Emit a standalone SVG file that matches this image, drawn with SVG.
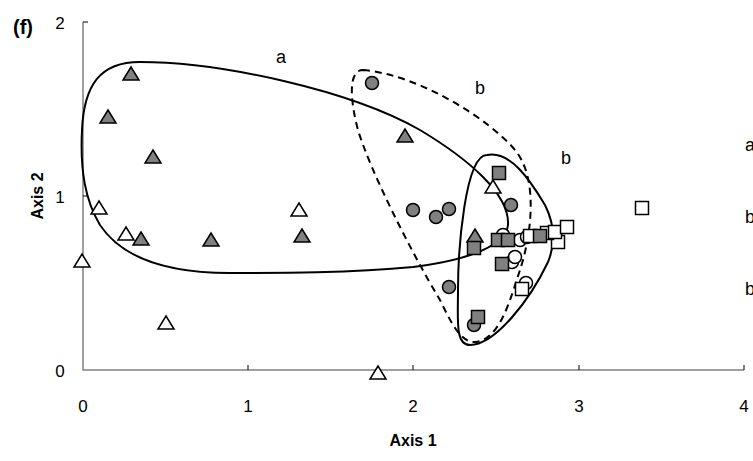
<svg xmlns="http://www.w3.org/2000/svg" width="753" height="461" viewBox="0 0 753 461">
<style>
text{font-family:"Liberation Sans",Arial,sans-serif;font-size:16px;fill:#000}
.b{font-weight:bold}
.lb{font-size:18px}
.ax{stroke:#808080;stroke-width:1.5;fill:none}
.tk{stroke:#000;stroke-width:1;fill:none}
.hull{stroke:#000;stroke-width:2;fill:none}
.dash{stroke-dasharray:7,5}
.f{fill:#808080;stroke:#000;stroke-width:1.5}
.o{fill:#fff;stroke:#000;stroke-width:1.5}
</style>
<defs>
<path id="tri" d="M0,-7 L8,6 L-8,6 Z"/>
<circle id="cir" r="6.5"/>
<rect id="sq" x="-6.5" y="-6.5" width="13" height="13"/>
</defs>
<g id="axes">
<path class="ax" d="M83,22 V370 H744"/>
<path class="tk" d="M83,22 H88 M83,196 H88 M248,370 V365 M413,370 V365 M579,370 V365 M744,370 V365"/>
<text x="60" y="29" text-anchor="middle" style="font-size:17px">2</text>
<text x="60" y="203" text-anchor="middle" style="font-size:17px">1</text>
<text x="60" y="377" text-anchor="middle" style="font-size:17px">0</text>
<text x="83" y="412" text-anchor="middle" style="font-size:17px">0</text>
<text x="248" y="412" text-anchor="middle" style="font-size:17px">1</text>
<text x="413" y="412" text-anchor="middle" style="font-size:17px">2</text>
<text x="579" y="412" text-anchor="middle" style="font-size:17px">3</text>
<text x="744" y="412" text-anchor="middle" style="font-size:17px">4</text>
<text class="b" x="413" y="446" text-anchor="middle">Axis 1</text>
<text class="b" transform="translate(43,196) rotate(-90)" text-anchor="middle">Axis 2</text>
<text class="b" x="23" y="34" text-anchor="middle" style="font-size:20px">(f)</text>
</g>
<g id="connectors">
<path id="hull-a" class="hull" d="M140,62 C220,62 350,90 420,130 C470,160 510,195 508,225 C506,245 470,260 413,267 C350,273 280,273 230,273 C160,273 120,255 100,225 C85,200 80,170 82,130 C84,85 100,62 140,62 Z"/>
<path id="hull-b-dashed" class="hull dash" d="M363,70 C420,75 490,120 515,150 C540,180 530,240 520,270 C510,300 500,340 475,342 C460,343 450,320 440,300 C410,250 370,170 358,130 C350,100 348,70 363,70 Z"/>
<path id="hull-b-solid" class="hull" d="M487,155 C510,150 530,180 545,205 C555,225 555,245 548,262 C530,300 495,345 470,345 C455,345 458,320 458,290 C458,250 465,155 487,155 Z"/>
</g>
<g id="labels">
<text class="lb" x="281" y="63" text-anchor="middle">a</text>
<text class="lb" x="480" y="94" text-anchor="middle">b</text>
<text class="lb" x="566" y="164" text-anchor="middle">b</text>
<text class="lb" x="745" y="151">a</text>
<text class="lb" x="745" y="223">b</text>
<text class="lb" x="745" y="295">b</text>
</g>
<g id="open-triangles">
<use href="#tri" class="o" x="99" y="208"/>
<use href="#tri" class="o" x="126" y="234"/>
<use href="#tri" class="o" x="82" y="261"/>
<use href="#tri" class="o" x="166" y="323"/>
<use href="#tri" class="o" x="299" y="210"/>
<use href="#tri" class="o" x="378" y="373"/>
<use href="#tri" class="o" x="493" y="187"/>
</g>
<g id="filled-triangles">
<use href="#tri" class="f" x="131" y="74"/>
<use href="#tri" class="f" x="108" y="117"/>
<use href="#tri" class="f" x="153" y="157"/>
<use href="#tri" class="f" x="141" y="239"/>
<use href="#tri" class="f" x="211" y="240"/>
<use href="#tri" class="f" x="405" y="136"/>
<use href="#tri" class="f" x="302" y="236"/>
<use href="#tri" class="f" x="475" y="236"/>
</g>
<g id="filled-circles">
<use href="#cir" class="f" x="372" y="83"/>
<use href="#cir" class="f" x="413" y="210"/>
<use href="#cir" class="f" x="436" y="217"/>
<use href="#cir" class="f" x="449" y="209"/>
<use href="#cir" class="f" x="511" y="205"/>
<use href="#cir" class="f" x="449" y="287"/>
<use href="#cir" class="f" x="474" y="325"/>
</g>
<g id="open-circles">
<use href="#cir" class="o" x="503" y="235"/>
<use href="#cir" class="o" x="512" y="262"/>
<use href="#cir" class="o" x="515" y="257"/>
<use href="#cir" class="o" x="520" y="240"/>
<use href="#cir" class="o" x="527" y="237"/>
<use href="#cir" class="o" x="526" y="283"/>
</g>
<g id="open-squares">
<use href="#sq" class="o" x="530" y="236"/>
<use href="#sq" class="o" x="558" y="242"/>
<use href="#sq" class="o" x="547" y="233"/>
<use href="#sq" class="o" x="555" y="232"/>
<use href="#sq" class="o" x="567" y="227"/>
<use href="#sq" class="o" x="522" y="289"/>
<use href="#sq" class="o" x="642" y="208"/>
</g>
<g id="filled-squares">
<use href="#sq" class="f" x="499" y="173"/>
<use href="#sq" class="f" x="474" y="248"/>
<use href="#sq" class="f" x="498" y="240"/>
<use href="#sq" class="f" x="508" y="240"/>
<use href="#sq" class="f" x="540" y="236"/>
<use href="#sq" class="f" x="502" y="264"/>
<use href="#sq" class="f" x="478" y="317"/>
</g>
</svg>
